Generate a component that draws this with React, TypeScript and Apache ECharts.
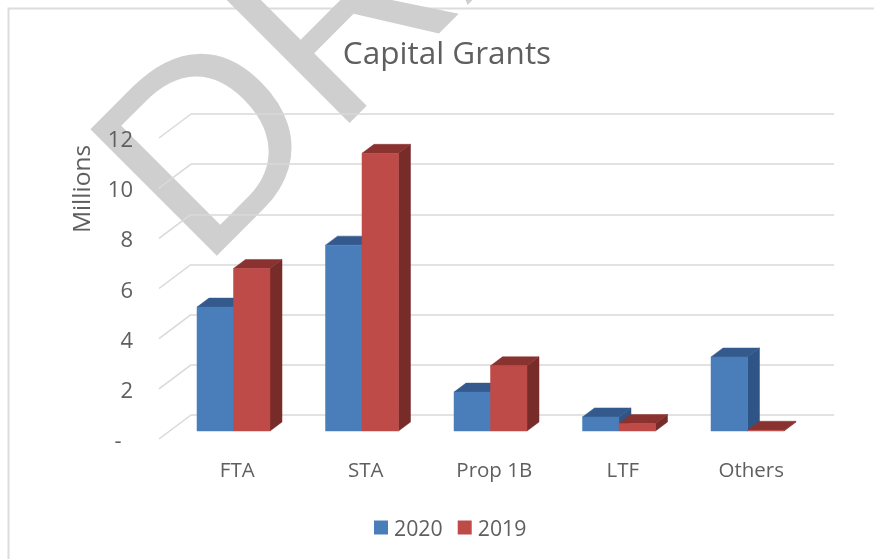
import React, { useEffect, useRef } from "react";
import * as echarts from "echarts";

const categories = ["FTA", "STA", "Prop 1B", "LTF", "Others"];
const values2020 = [4.94, 7.41, 1.55, 0.56, 2.95];
const values2019 = [6.48, 11.07, 2.6, 0.3, 0.03];
const ticks = [0, 2, 4, 6, 8, 10, 12];
const FONT = "'Open Sans', 'Noto Sans', sans-serif";
const INK = "#5f5f5f";

const DEPTH_X = 12;
const DEPTH_Y = 9;
const WALL_DX = 32;
const WALL_DY = 24;

function barRenderer(side: number, front: string, top: string, right: string) {
  return (_p: any, api: any) => {
    const cat = api.value(0);
    const val = api.value(1);
    const base = api.coord([cat, 0]);
    const head = api.coord([cat, val]);
    const w = api.size([1, 0])[0] * 0.284;
    const x0 = side < 0 ? base[0] - w : base[0];
    const x1 = x0 + w;
    const yb = base[1];
    const yt = head[1];
    const poly = (points: number[][], fill: string) => ({
      type: "polygon",
      shape: { points },
      style: { fill, stroke: fill, lineWidth: 0.5 },
    });
    return {
      type: "group",
      children: [
        poly([[x1, yb], [x1 + DEPTH_X, yb - DEPTH_Y], [x1 + DEPTH_X, yt - DEPTH_Y], [x1, yt]], right),
        poly([[x0, yt], [x0 + DEPTH_X, yt - DEPTH_Y], [x1 + DEPTH_X, yt - DEPTH_Y], [x1, yt]], top),
        poly([[x0, yb], [x1, yb], [x1, yt], [x0, yt]], front),
      ],
    };
  };
}

function diagonal(p: any, api: any) {
  const y = api.coord([0, api.value(0)])[1];
  const x = p.coordSys.x;
  return {
    type: "line",
    shape: { x1: x, y1: y, x2: x + WALL_DX, y2: y - WALL_DY },
    style: { stroke: "#d9d9d9", lineWidth: 1.5 },
  };
}

export default function App() {
  const ref = useRef<HTMLDivElement>(null);
  useEffect(() => {
    const chart = echarts.init(ref.current!, undefined, { renderer: "svg" });
    chart.setOption({
      animation: false,
      backgroundColor: "#ffffff",
      title: {
        text: "Capital Grants",
        left: 442,
        top: 30,
        textAlign: "center",
        textStyle: { fontFamily: FONT, fontSize: 31.5, fontWeight: "normal", color: INK },
      },
      legend: {
        left: 369,
        top: 512,
        itemWidth: 14,
        itemHeight: 14,
        itemGap: 15,
        icon: "rect",
        data: ["2020", "2019"],
        textStyle: { fontFamily: FONT, fontSize: 21.3, color: INK, padding: [0, 0, 0, 1] },
      },
      grid: [
        { left: 191, top: 114, width: 643, height: 301 },
        { left: 159, top: 138, width: 643, height: 301 },
        { left: 169.25, top: 130, width: 642.5, height: 301 },
        { left: 173, top: 138, width: 642.5, height: 301 },
      ],
      xAxis: [0, 1, 2].map((i) => ({
        gridIndex: i,
        type: "category",
        data: categories,
        show: false,
      })).concat([{
        gridIndex: 3,
        type: "category",
        data: categories,
        axisLine: { show: false },
        axisTick: { show: false },
        axisLabel: { margin: 19, fontFamily: FONT, fontSize: 20.5, color: INK },
      } as any]),
      yAxis: [
        {
          gridIndex: 0, type: "value", min: 0, max: 12, interval: 2,
          axisLine: { show: false }, axisTick: { show: false }, axisLabel: { show: false },
          splitLine: { show: true, lineStyle: { color: "#d9d9d9", width: 1.5 } },
        },
        {
          gridIndex: 1, type: "value", min: 0, max: 12, interval: 2,
          axisLine: { show: false }, axisTick: { show: false }, splitLine: { show: false },
          axisLabel: {
            margin: 26, fontFamily: FONT, fontSize: 22, color: INK,
            formatter: (v: number) => (v === 0 ? "-\u00a0\u00a0" : String(v)),
          },
        },
        { gridIndex: 2, type: "value", min: 0, max: 12, interval: 2, show: false },
        { gridIndex: 3, type: "value", min: 0, max: 12, interval: 2, show: false },
      ],
      graphic: [
        {
          type: "polyline",
          z: -10,
          shape: { points: [[8.5, 559], [8.5, 8.5], [874, 8.5]] },
          style: { fill: "none", stroke: "#dcdcdc", lineWidth: 2 },
          silent: true,
        },
        {
          type: "text",
          z: -5,
          x: 230,
          y: 299,
          rotation: Math.PI / 4,
          silent: true,
          style: {
            text: "DRAFT",
            fontFamily: "'Liberation Sans', Arial, sans-serif",
            fontSize: 260,
            fill: "#cfcfcf",
            align: "left",
            verticalAlign: "bottom",
          },
        },
        {
          type: "text",
          x: 80,
          y: 189,
          rotation: Math.PI / 2,
          style: {
            text: "Millions",
            fontFamily: FONT,
            fontSize: 24.5,
            fill: INK,
            align: "center",
            verticalAlign: "middle",
          },
        },
      ],
      series: [
        {
          type: "custom",
          xAxisIndex: 1,
          yAxisIndex: 1,
          data: ticks.map((t) => [t]),
          encode: { y: 0 },
          renderItem: diagonal,
          silent: true,
          z: 1,
        },
        {
          name: "2020",
          type: "custom",
          xAxisIndex: 2,
          yAxisIndex: 2,
          data: values2020.map((v, i) => [i, v]),
          encode: { x: 0, y: 1 },
          renderItem: barRenderer(-1, "#4a7ebb", "#34598c", "#2f5486"),
          itemStyle: { color: "#4a7ebb" },
          z: 3,
        },
        {
          name: "2019",
          type: "custom",
          xAxisIndex: 2,
          yAxisIndex: 2,
          data: values2019.map((v, i) => [i, v]),
          encode: { x: 0, y: 1 },
          renderItem: barRenderer(1, "#be4b48", "#8a3230", "#772c2a"),
          itemStyle: { color: "#be4b48" },
          z: 4,
        },
      ],
    });
    return () => chart.dispose();
  }, []);
  return <div ref={ref} style={{ position: "absolute", left: 0, top: 0, width: 874, height: 559, filter: "blur(0.5px)" }} />;
}
